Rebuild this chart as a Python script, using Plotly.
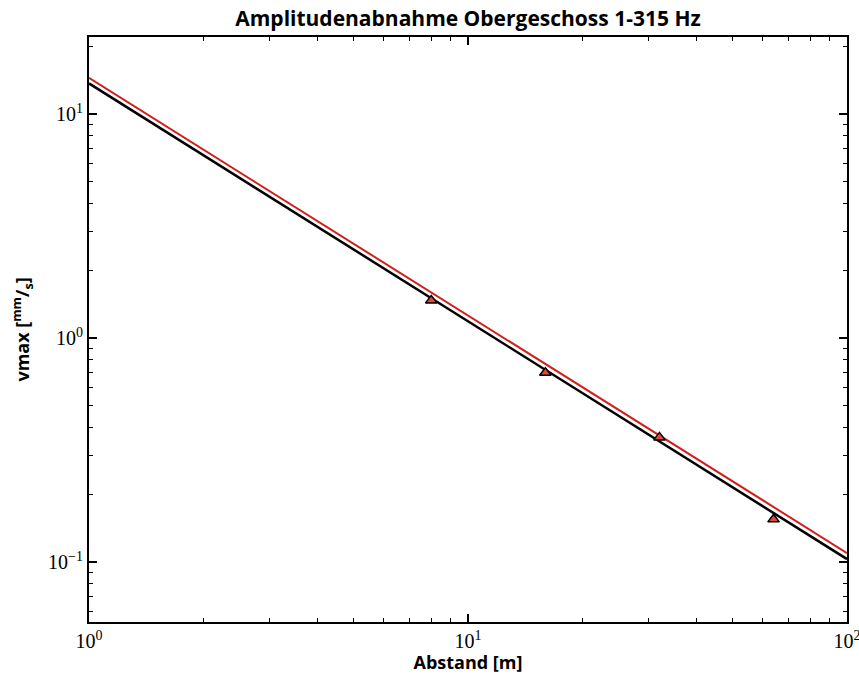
import plotly.graph_objects as go

# Data
abstand = [8, 16, 32, 64]
vmax = [1.47, 0.70, 0.36, 0.155]
fit_x = [1, 100]
fit_black = [13.7, 0.103]
fit_red = [14.5, 0.1096]

x_tickvals = [1, 10, 100]
x_ticktext = ["10<sup>0</sup>", "10<sup>1</sup>", "10<sup>2</sup>"]
y_tickvals = [0.1, 1, 10]
y_ticktext = ["10<sup>\u22121</sup>", "10<sup>0</sup>", "10<sup>1</sup>"]

def minor_vals(decades):
    return [m * d for d in decades for m in range(2, 10)]

fig = go.Figure()
fig.add_trace(go.Scatter(x=fit_x, y=fit_red, mode="lines",
                         line=dict(color="#d0201c", width=2), showlegend=False))
fig.add_trace(go.Scatter(x=fit_x, y=fit_black, mode="lines",
                         line=dict(color="black", width=2.5), showlegend=False))
fig.add_trace(go.Scatter(x=abstand, y=vmax, mode="markers",
                         marker=dict(symbol="triangle-up", size=10, color="#e8463a",
                                     line=dict(color="black", width=1.5)),
                         showlegend=False))

axis_common = dict(
    type="log", showgrid=False, zeroline=False, automargin=False,
    showline=True, linecolor="black", linewidth=2, mirror="allticks",
    ticks="inside", ticklen=8, tickwidth=1.5, tickcolor="black",
    ticklabeloverflow="allow",
    tickfont=dict(family="Liberation Serif, DejaVu Serif, serif", size=20, color="black"),
)

fig.update_layout(
    width=859, height=674,
    margin=dict(l=89, r=12, t=37, b=52),
    plot_bgcolor="white", paper_bgcolor="white",
    title=dict(text="<b>Amplitudenabnahme Obergeschoss 1-315 Hz</b>",
               x=(89 + 847) / 2 / 859, xanchor="center", y=0.972, yanchor="middle",
               font=dict(family="Open Sans, DejaVu Sans, sans-serif", size=21, color="black")),
    xaxis=dict(axis_common, range=[0, 2], tickvals=x_tickvals, ticktext=x_ticktext,
               minor=dict(tickvals=minor_vals([1, 10]), ticks="inside", ticklen=4,
                          tickwidth=1, tickcolor="black", showgrid=False),
               title=dict(text="<b>Abstand [m]</b>", standoff=4,
                          font=dict(family="Open Sans, DejaVu Sans, sans-serif", size=18, color="black"))),
    yaxis=dict(axis_common, range=[-1.268, 1.344], tickvals=y_tickvals, ticktext=y_ticktext,
               minor=dict(tickvals=minor_vals([0.01, 0.1, 1, 10]), ticks="inside", ticklen=4,
                          tickwidth=1, tickcolor="black", showgrid=False),
               title=dict(text="<b>vmax [<sup>mm</sup>/<sub>s</sub>]</b>", standoff=14,
                          font=dict(family="Open Sans, DejaVu Sans, sans-serif", size=18, color="black"))),
)

fig.write_html("out.html")
